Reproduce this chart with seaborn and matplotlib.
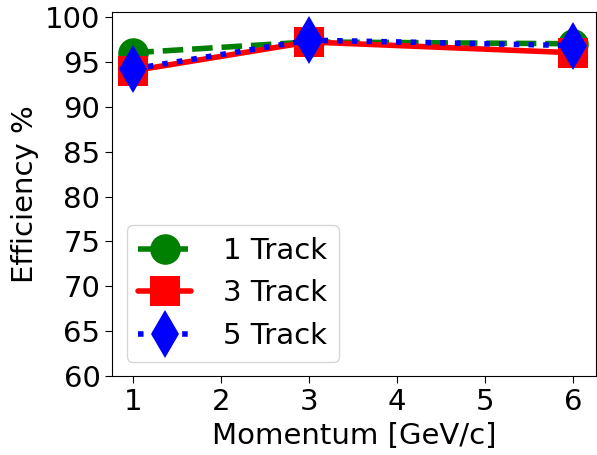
import matplotlib
matplotlib.use("Agg")
import matplotlib.pyplot as plt
import seaborn as sns
import pandas as pd

momentum = [1, 3, 6]
track1 = [96.0, 97.2, 97.0]
track3 = [94.0, 97.2, 96.0]
track5 = [94.2, 97.4, 96.8]
labels = ["1 Track", "3 Track", "5 Track"]

sns.set_style("ticks")
plt.rcParams['font.family'] = ['DejaVu Sans']
plt.rcParams['text.color'] = 'black'
plt.rcParams['axes.labelcolor'] = 'black'
plt.rcParams['xtick.color'] = 'black'
plt.rcParams['ytick.color'] = 'black'

fig, ax = plt.subplots(figsize=(5.97, 4.55), dpi=100)
fig.subplots_adjust(left=0.188, right=0.998, top=0.973, bottom=0.173)

styles = [
    dict(color="green", marker="o", linestyle="--", ms=22),
    dict(color="red", marker="s", linestyle="-", ms=22),
    dict(color="blue", marker="d", linestyle=":", ms=24),
]
for vals, lab, st in zip([track1, track3, track5], labels, styles):
    df = pd.DataFrame({"x": momentum, "y": vals})
    sns.lineplot(data=df, x="x", y="y", ax=ax, color=st["color"], marker=st["marker"],
                 linestyle=st["linestyle"], markersize=st["ms"], linewidth=4,
                 markeredgewidth=0, label=lab)

ax.set_ylim(60, 100.5)
ax.set_xlim(0.76, 6.26)
ax.set_xticks([1, 2, 3, 4, 5, 6])
ax.set_yticks(range(60, 101, 5))
ax.tick_params(labelsize=21, length=5)
ax.set_xlabel("Momentum [GeV/c]", fontsize=21)
ax.set_ylabel("Efficiency %", fontsize=21)
for s in ax.spines.values():
    s.set_color("black")
    s.set_linewidth(0.8)
ax.legend(loc="lower left", fontsize=21, handlelength=1.8, handletextpad=1.1)
fig.savefig("out.png", dpi=100)
